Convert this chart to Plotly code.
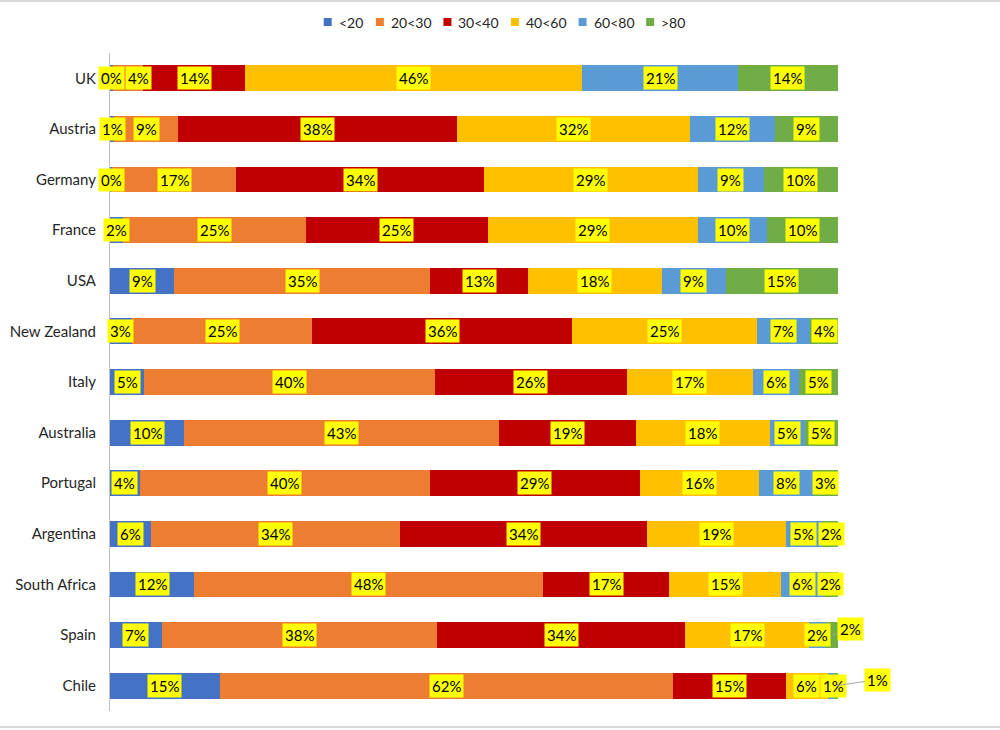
import plotly.graph_objects as go

# ---------------- data ----------------
countries = ["UK", "Austria", "Germany", "France", "USA", "New Zealand", "Italy",
             "Australia", "Portugal", "Argentina", "South Africa", "Spain", "Chile"]
series_names = ["<20", "20<30", "30<40", "40<60", "60<80", ">80"]

share_lt20  = [0.4, 0.6, 0.3, 1.8, 8.8, 3.0, 4.7, 10.2, 4.1, 5.6, 11.6, 7.1, 15.1]
share_20_30 = [4.2, 8.7, 17.0, 25.1, 35.2, 24.8, 39.9, 43.3, 39.8, 34.3, 47.9, 37.8, 62.3]
share_30_40 = [13.9, 38.3, 34.1, 25.0, 13.4, 35.7, 26.4, 18.8, 28.9, 33.8, 17.3, 34.1, 15.4]
share_40_60 = [46.4, 32.1, 29.3, 28.8, 18.4, 25.4, 17.3, 18.3, 16.3, 19.1, 15.4, 17.0, 5.8]
share_60_80 = [21.3, 11.7, 9.1, 9.6, 8.8, 7.3, 6.4, 4.8, 7.6, 5.0, 5.8, 2.4, 0.8]
share_gt80  = [13.8, 8.6, 10.2, 9.7, 15.4, 3.8, 5.3, 4.6, 3.3, 2.2, 2.0, 1.6, 0.6]

# ---------------- style ----------------
colors = ["#4472C4", "#ED7D31", "#C00000", "#FFC000", "#5B9BD5", "#70AD47"]
FONT = "Lato, 'Noto Sans', sans-serif"
W, H = 1000, 730
ML, MR, MT, MB = 110, 162, 53, 19
PLOT_W = W - ML - MR
PLOT_H = H - MT - MB
PX_PER_UNIT = PLOT_W / 100.0
LABEL_SIZE = 15
BORDERPAD = 2
LEGEND_SIZE = 14
# labels that were pushed outside the bar (with a leader line): offsets in px
OUTSIDE_LABELS = {("Spain", ">80"): (18, -6), ("Chile", ">80"): (42, -6)}

all_series = [share_lt20, share_20_30, share_30_40, share_40_60, share_60_80, share_gt80]


def py(pix):
    return (H - MB - pix) / PLOT_H


def px(pix):
    return (pix - ML) / PLOT_W


fig = go.Figure()
for name, vals, col in zip(series_names, all_series, colors):
    fig.add_trace(go.Bar(
        y=countries, x=vals, name=name, orientation="h",
        marker=dict(color=col, line=dict(width=0)),
        hoverinfo="skip", showlegend=False,
    ))


def est_width(txt, size):
    w = 0
    for ch in txt:
        w += 0.84 * size if ch == "%" else 0.58 * size
    return w


annotations = []
for i, c in enumerate(countries):
    cum = 0.0
    row = []
    for j, name in enumerate(series_names):
        v = all_series[j][i]
        center = cum + v / 2.0
        cum += v
        row.append((center, f"{v:.0f}%", name))
    prev_right = None
    for center, txt, name in row:
        key = (c, name)
        if key in OUTSIDE_LABELS:
            ax, ay = OUTSIDE_LABELS[key]
            annotations.append(dict(
                x=center, y=c, xref="x", yref="y", text=txt,
                showarrow=True, arrowhead=0, arrowwidth=1, arrowcolor="#a6a6a6",
                ax=ax, ay=ay, bgcolor="#FFFF00", borderpad=BORDERPAD,
                font=dict(family=FONT, size=LABEL_SIZE, color="black"),
            ))
            continue
        w = est_width(txt, LABEL_SIZE) + 2 * BORDERPAD + 2
        cpx = center * PX_PER_UNIT
        shift = 0
        if prev_right is not None and cpx - w / 2 < prev_right:
            shift = prev_right - (cpx - w / 2)
        prev_right = cpx + shift + w / 2
        annotations.append(dict(
            x=center, y=c, xref="x", yref="y", text=txt, showarrow=False,
            xshift=shift, bgcolor="#FFFF00", borderpad=BORDERPAD,
            font=dict(family=FONT, size=LABEL_SIZE, color="black"),
        ))

# ---- custom compact legend (squares + text) centred at the top ----
SQ = 8
GAP_TXT = 5
GAP_ITEM = 16
LEG_Y = 22
widths = [SQ + GAP_TXT + est_width(n, LEGEND_SIZE) * 0.95 for n in series_names]
total = sum(widths) + GAP_ITEM * (len(widths) - 1)
x_cur = 503 - total / 2
shapes = []
for name, col, w in zip(series_names, colors, widths):
    shapes.append(dict(type="rect", xref="paper", yref="paper",
                       x0=px(x_cur), x1=px(x_cur + SQ),
                       y0=py(LEG_Y + SQ / 2), y1=py(LEG_Y - SQ / 2),
                       fillcolor=col, line=dict(width=0)))
    annotations.append(dict(x=px(x_cur + SQ + GAP_TXT), y=py(LEG_Y), xref="paper", yref="paper",
                            text=name, showarrow=False, xanchor="left", yanchor="middle",
                            font=dict(family=FONT, size=LEGEND_SIZE, color="#262626")))
    x_cur += w + GAP_ITEM

# chart frame lines (top / bottom)
shapes += [
    dict(type="line", xref="paper", yref="paper", x0=px(0), x1=px(W), y0=py(1), y1=py(1),
         line=dict(color="#d9d9d9", width=2)),
    dict(type="line", xref="paper", yref="paper", x0=px(0), x1=px(W), y0=py(727), y1=py(727),
         line=dict(color="#d9d9d9", width=2)),
]

fig.update_layout(
    width=W, height=H,
    margin=dict(l=ML, r=MR, t=MT, b=MB, autoexpand=False),
    barmode="stack",
    bargap=0.49,
    plot_bgcolor="white", paper_bgcolor="white",
    font=dict(family=FONT, size=15, color="#262626"),
    xaxis=dict(range=[0, 100], visible=False, fixedrange=True),
    yaxis=dict(autorange="reversed", showline=True, linecolor="#bfbfbf", linewidth=1,
               ticks="", showgrid=False, ticklabelstandoff=10, automargin=False,
               fixedrange=True,
               tickfont=dict(family=FONT, size=15, color="#262626")),
    annotations=annotations,
    shapes=shapes,
    showlegend=False,
)

fig.write_html("out.html", config={"displayModeBar": False},
               post_script="document.body.style.margin='0';")
